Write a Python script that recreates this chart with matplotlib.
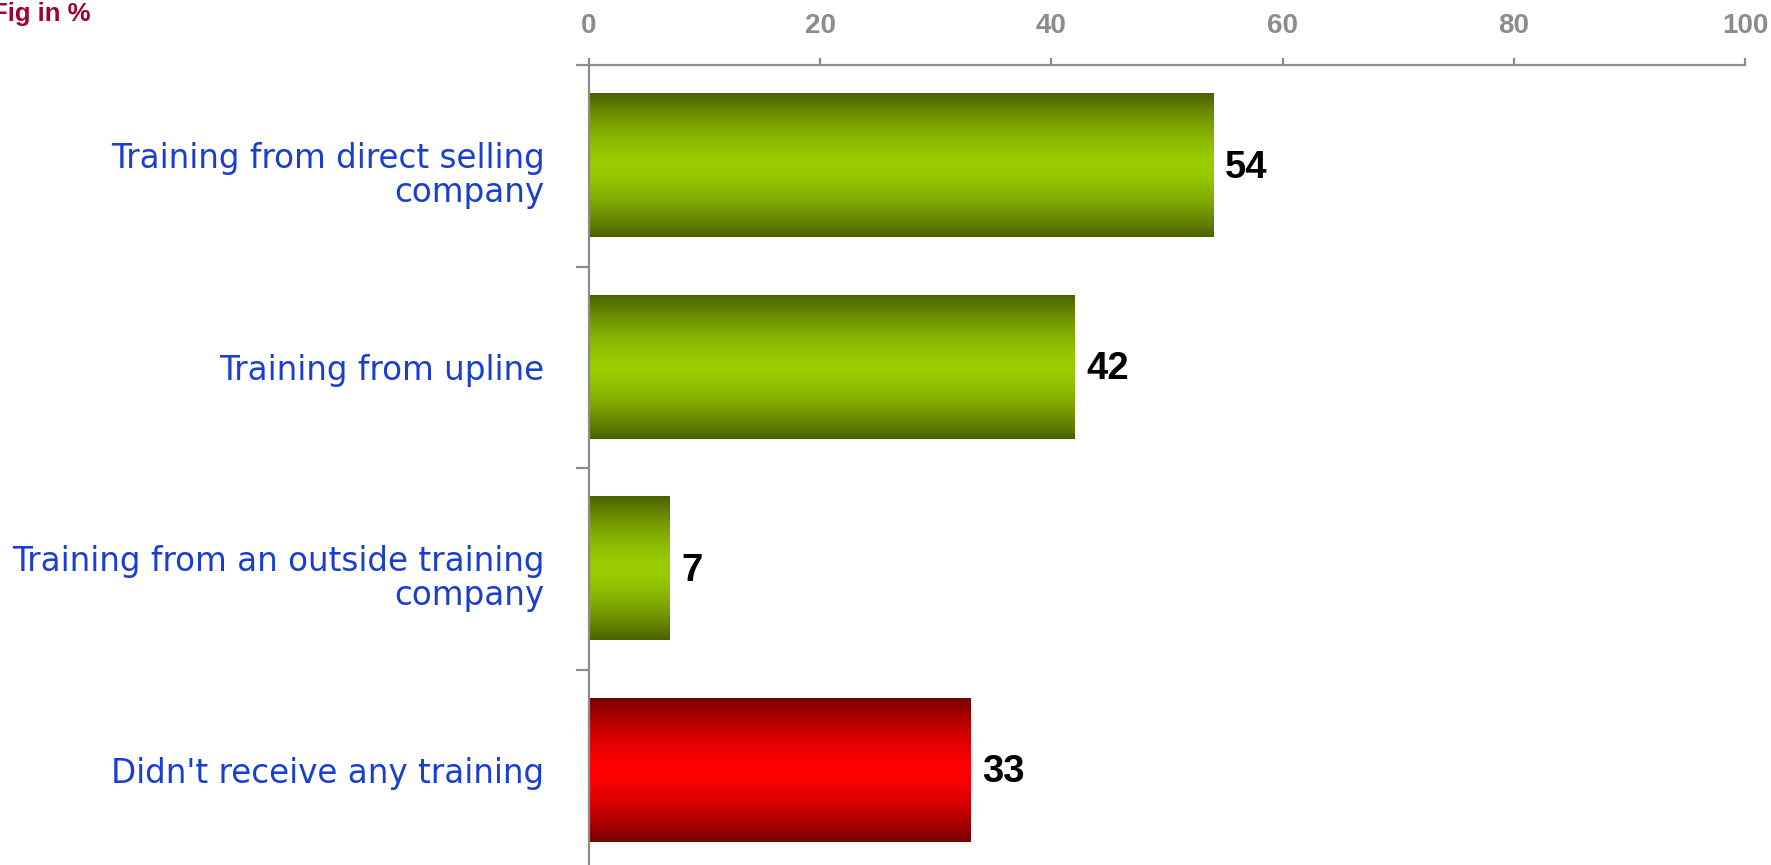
import numpy as np
import matplotlib.pyplot as plt
import matplotlib.transforms as mtransforms
from matplotlib.colors import LinearSegmentedColormap
from matplotlib.ticker import FixedLocator

# data
categories = ['Training from direct selling\ncompany',
              'Training from upline',
              'Training from an outside training\ncompany',
              "Didn't receive any training"]
values = [54, 42, 7, 33]
bar_kind = ['green', 'green', 'green', 'red']
xticks = [0, 20, 40, 60, 80, 100]

# gradient maps: dark at the edges, bright in the middle
grad_colors = {
    'green': ('#4a6100', '#99cc00'),
    'red': ('#760000', '#ff0000'),
}

def make_cmap(edge, mid):
    return LinearSegmentedColormap.from_list('g', [edge, mid])

fig = plt.figure(figsize=(17.71, 8.65), dpi=100)
ax = fig.add_axes([589 / 1771, -6 / 865, (1745 - 589) / 1771, 806 / 865])

ypos = np.arange(len(values))
bars = ax.barh(ypos, values, height=0.71, color='none', edgecolor='none')

# vertical gradient profile
t = np.linspace(-1, 1, 200)
prof = 1 - np.abs(t) ** 1.6
grad = prof.reshape(-1, 1)

for bar, kind in zip(bars, bar_kind):
    x0, y0 = bar.get_xy()
    w, h = bar.get_width(), bar.get_height()
    cmap = make_cmap(*grad_colors[kind])
    ax.imshow(grad, extent=[x0, x0 + w, y0 + h, y0], aspect='auto',
              cmap=cmap, vmin=0, vmax=1, zorder=2, interpolation='bilinear')

for y, v in zip(ypos, values):
    ax.text(v + 1.0, y + 0.01, str(v), va='center', ha='left', fontsize=27.5,
            fontweight='bold', family='Liberation Sans', color='black')

ax.set_xlim(0, 100)
ax.set_ylim(len(values) - 0.5, -0.5)
ax.set_aspect('auto')

gray = '#8c8c8c'
for s in ['right', 'bottom']:
    ax.spines[s].set_visible(False)
for s in ['top', 'left']:
    ax.spines[s].set_color(gray)
    ax.spines[s].set_linewidth(1.6)

ax.xaxis.tick_top()
ax.set_xticks(xticks)
ax.set_xticklabels([str(x) for x in xticks], fontsize=20, fontweight='bold',
                   family='Liberation Sans', color=gray)
ax.tick_params(axis='x', length=5, width=1.6, color=gray, pad=14)

ax.set_yticks(ypos)
ax.set_yticklabels(categories, fontsize=23.5, color='#1a3fd0', family='DejaVu Sans',
                   linespacing=1.03)
ax.tick_params(axis='y', which='major', length=0, pad=32)
ax.yaxis.set_minor_locator(FixedLocator(np.arange(-0.5, len(values) - 0.5, 1)))
ax.tick_params(axis='y', which='minor', length=9.5, width=1.6, color=gray)
# two-line labels sit a little lower in the original
shift = mtransforms.ScaledTranslation(0, -6 / 100, fig.dpi_scale_trans)
for lbl in ax.get_yticklabels():
    lbl.set_ha('right')
    if '\n' in lbl.get_text():
        lbl.set_transform(lbl.get_transform() + shift)

fig.text(-8 / 1771, 1 - 21 / 865, 'Fig in %', color='#a3002b', fontsize=18.5,
         fontweight='bold', family='Liberation Sans', va='baseline', ha='left')

fig.savefig('out.png', dpi=100)
